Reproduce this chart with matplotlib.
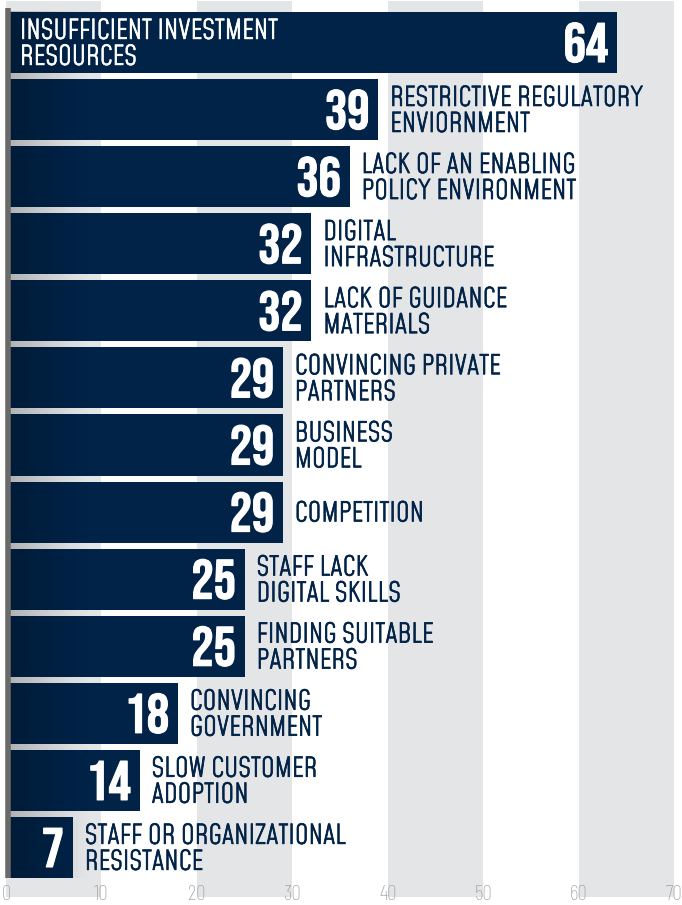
import matplotlib
matplotlib.use("Agg")
import matplotlib.pyplot as plt
import matplotlib.patheffects as pe
import numpy as np
from matplotlib import font_manager as fm

categories = [
    "INSUFFICIENT INVESTMENT\nRESOURCES",
    "RESTRICTIVE REGULATORY\nENVIORNMENT",
    "LACK OF AN ENABLING\nPOLICY ENVIRONMENT",
    "DIGITAL\nINFRASTRUCTURE",
    "LACK OF GUIDANCE\nMATERIALS",
    "CONVINCING PRIVATE\nPARTNERS",
    "BUSINESS\nMODEL",
    "COMPETITION",
    "STAFF LACK\nDIGITAL SKILLS",
    "FINDING SUITABLE\nPARTNERS",
    "CONVINCING\nGOVERNMENT",
    "SLOW CUSTOMER\nADOPTION",
    "STAFF OR ORGANIZATIONAL\nRESISTANCE",
]
values = [64, 39, 36, 32, 32, 29, 29, 29, 25, 25, 18, 14, 7]
xticks = [0, 10, 20, 30, 40, 50, 60, 70]

NAVY = "#012348"
BAND = "#e4e5e7"

def find_font(fname_part, fallback_family):
    for f in fm.fontManager.ttflist:
        if f.fname.split('/')[-1].lower() == fname_part.lower():
            return fm.FontProperties(fname=f.fname)
    return fm.FontProperties(family=fallback_family)

num_fp = find_font("BebasNeue-Regular.ttf", "DejaVu Sans")
lab_fp = find_font("Mohave[wght].ttf", "DejaVu Sans")
tick_fp = find_font("BarlowCondensed-Thin.ttf", "DejaVu Sans")

fig = plt.figure(figsize=(6.82, 9.05), dpi=100)
ax = fig.add_axes([6 / 682, 1 - 897 / 905, 668 / 682, 896 / 905])
ax.set_xlim(0, 70)
ax.set_ylim(12.738, -0.619)

# background bands
for x0 in range(0, 70, 20):
    ax.axvspan(x0, x0 + 10, color=BAND, lw=0, zorder=0)

n = len(values)
ypos = np.arange(n)
ax.barh(ypos, values, height=0.91, color=NAVY, lw=0, zorder=2)

# left shadow gradient
grad = np.zeros((2, 256, 4))
alpha = np.linspace(0.30, 0.0, 256) ** 1.2
grad[..., 3] = alpha
ax.imshow(grad, extent=(0, 9, 12.455, -0.455), aspect='auto', zorder=3, interpolation='bilinear')
ax.set_xlim(0, 70)
ax.set_ylim(12.738, -0.619)

# left rule
ax.plot([0.17, 0.17], [-0.52, 12.46], color="#6a6a6a", lw=4.0, solid_capstyle='butt', zorder=4, clip_on=False)

for i, (lab, v) in enumerate(zip(categories, values)):
    ax.annotate(str(v), xy=(v, i), xytext=(-6.3, 0), textcoords='offset points',
                ha='right', va='center', color='white', fontproperties=num_fp, fontsize=40, zorder=5,
                path_effects=[pe.withStroke(linewidth=0.8, foreground='white')])
    if i == 0:
        ax.annotate(lab, xy=(0, i), xytext=(10, -1.3), textcoords='offset points',
                    ha='left', va='center', color='white', fontproperties=lab_fp, fontsize=19.3,
                    linespacing=1.05, zorder=5,
                    path_effects=[pe.withStroke(linewidth=0.55, foreground='white')])
    else:
        ax.annotate(lab, xy=(v, i), xytext=(8.6, -1.3), textcoords='offset points',
                    ha='left', va='center', color=NAVY, fontproperties=lab_fp, fontsize=19.3,
                    linespacing=1.05, zorder=5,
                    path_effects=[pe.withStroke(linewidth=0.55, foreground=NAVY)])

ax.set_xticks(xticks)
ax.set_xticklabels([str(t) for t in xticks], fontproperties=tick_fp, fontsize=15.5, color="#9a9a9a")
ax.tick_params(axis='x', length=0, pad=-8.5)
ax.set_yticks([])
for s in ax.spines.values():
    s.set_visible(False)

fig.savefig("out.png", dpi=100)
